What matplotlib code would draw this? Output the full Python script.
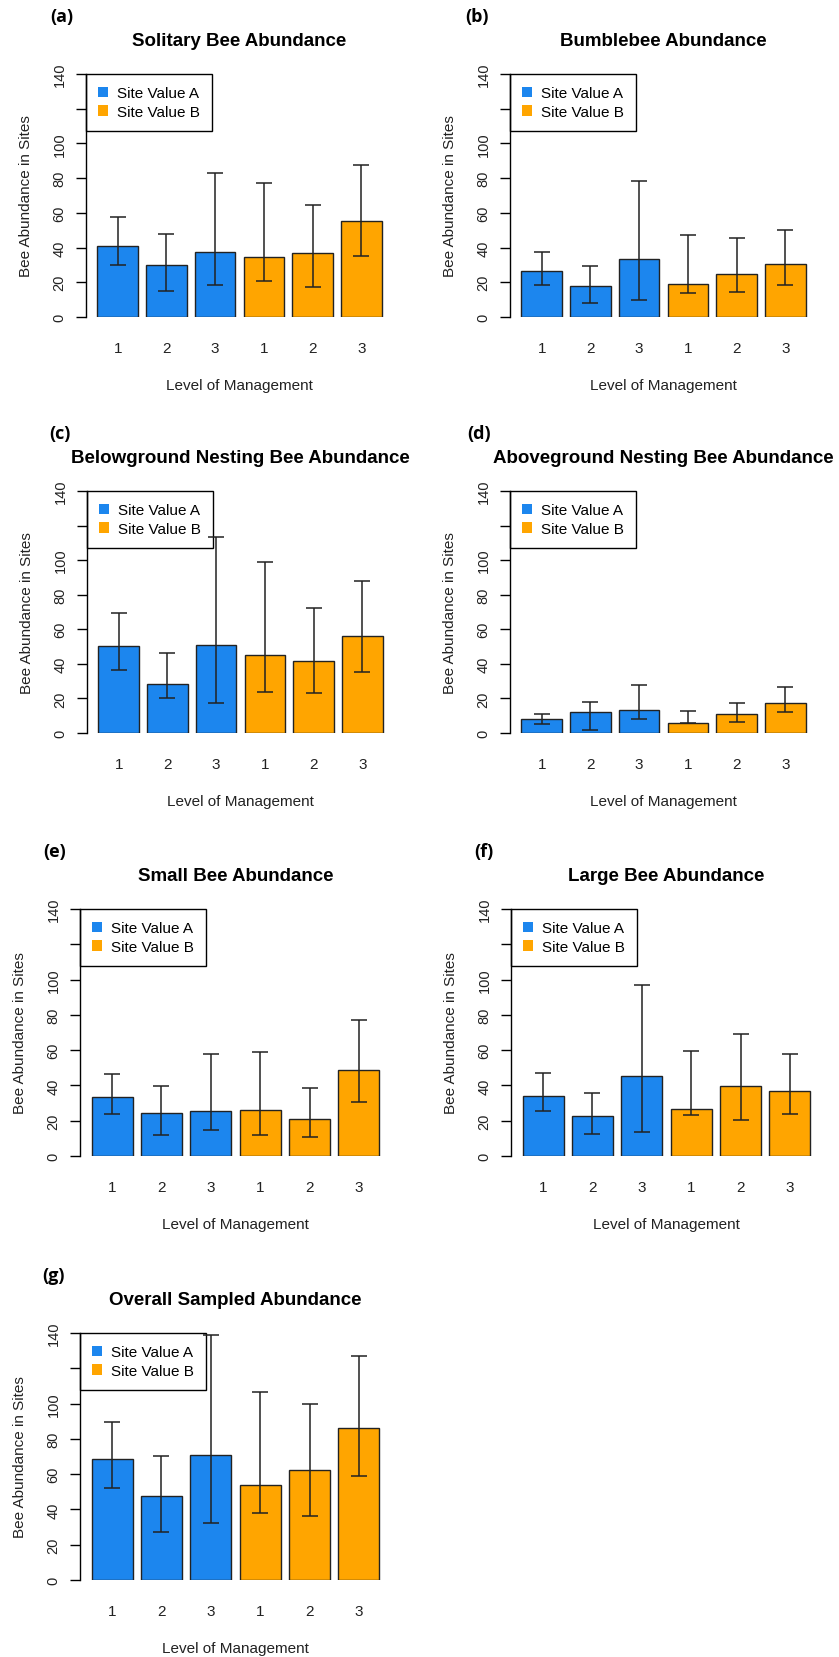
import numpy as np
import matplotlib.pyplot as plt
from matplotlib.patches import Patch

plt.rcParams['font.family'] = ['Liberation Sans', 'DejaVu Sans']

# bar order: Site Value A (levels 1,2,3), then Site Value B (levels 1,2,3)
level_labels = ['1', '2', '3', '1', '2', '3']
site_labels = ['Site Value A', 'Site Value B']
panel_letters = ['(a)', '(b)', '(c)', '(d)', '(e)', '(f)', '(g)']
titles = ['Solitary Bee Abundance', 'Bumblebee Abundance',
          'Belowground Nesting Bee Abundance', 'Aboveground Nesting Bee Abundance',
          'Small Bee Abundance', 'Large Bee Abundance', 'Overall Sampled Abundance']

solitary_mean = [41, 30, 37.5, 34.3, 36.8, 55.5]
solitary_lo = [30, 14.8, 18.5, 21, 17, 35]
solitary_hi = [57.4, 47.8, 83.2, 77.3, 64.7, 87.5]

bumble_mean = [26.6, 17.7, 33.5, 19, 24.5, 30.6]
bumble_lo = [18.5, 8.1, 10, 13.7, 14.3, 18.5]
bumble_hi = [37.4, 29.3, 78.4, 47.2, 45.7, 49.9]

below_mean = [50.3, 28.5, 51, 44.9, 41.4, 55.9]
below_lo = [36.6, 20.2, 17.5, 23.7, 23.1, 35.3]
below_hi = [69.5, 46.2, 113.5, 98.8, 72.2, 87.9]

above_mean = [7.9, 12.1, 13.5, 5.6, 10.8, 17.5]
above_lo = [5.2, 1.9, 7.9, 5.6, 6.6, 12.1]
above_hi = [10.8, 18.1, 27.9, 12.7, 17.5, 26.6]

small_mean = [33.6, 24.6, 25.3, 25.9, 21.2, 48.6]
small_lo = [24, 11.7, 14.9, 11.7, 11, 30.8]
small_hi = [46.3, 39.7, 58, 58.8, 38.4, 77.1]

large_mean = [34.2, 22.7, 45.2, 26.6, 39.7, 36.8]
large_lo = [25.3, 12.5, 13.6, 23.2, 20.4, 24]
large_hi = [47, 35.5, 97.1, 59.5, 69, 58]

overall_mean = [68.4, 47.8, 71, 54, 62.3, 86.2]
overall_lo = [52.1, 27.2, 32.1, 38.2, 36.3, 58.8]
overall_hi = [89.4, 70.3, 138.7, 106.6, 99.8, 127]

means = [solitary_mean, bumble_mean, below_mean, above_mean, small_mean, large_mean, overall_mean]
lows = [solitary_lo, bumble_lo, below_lo, above_lo, small_lo, large_lo, overall_lo]
highs = [solitary_hi, bumble_hi, below_hi, above_hi, small_hi, large_hi, overall_hi]

col_a = '#1C86EE'
col_b = '#FFA500'
bar_cols = [col_a] * 3 + [col_b] * 3

W, H = 839, 1658
fig = plt.figure(figsize=(W / 100, H / 100), dpi=100)

# axes rectangles in pixels: left, top, width, height
rects = [(86, 75, 307, 243), (510, 75, 307, 243),
         (87, 492, 307, 242), (510, 492, 307, 242),
         (80, 910, 311, 247), (511, 910, 311, 247),
         (80, 1334, 311, 247)]
letter_dx = [-36, -45, -38, -43, -37, -37, -38]

x = 0.7 + 1.2 * np.arange(6)  # R barplot positions (width 1, space 0.2)

for i in range(7):
    l, t, w, h = rects[i]
    ax = fig.add_axes([l / W, 1 - (t + h) / H, w / W, h / H])
    m = np.array(means[i])
    lo = np.array(lows[i])
    hi = np.array(highs[i])

    ax.bar(x, m, width=1.0, color=bar_cols, edgecolor='#222222', linewidth=1.0, zorder=2)
    ax.errorbar(x, m, yerr=[m - lo, hi - m], fmt='none', ecolor='#222222',
                elinewidth=1.1, capsize=5.5, capthick=1.1, zorder=3)

    ax.set_xlim(-0.08, 7.48)
    ax.set_ylim(0, 140)
    for s in ['top', 'right', 'bottom']:
        ax.spines[s].set_visible(False)
    ax.spines['left'].set_linewidth(1.0)

    ax.set_yticks(np.arange(0, 141, 20))
    ax.set_yticklabels(['0', '20', '40', '60', '80', '100', '', '140'],
                       rotation=90, va='center', fontsize=10.5, color='#222222')
    ax.tick_params(axis='y', length=7, width=1.0, pad=7)
    ax.set_xticks(x)
    ax.set_xticklabels(level_labels, fontsize=11, color='#222222')
    ax.tick_params(axis='x', length=0, pad=17)

    ax.set_ylabel('Bee Abundance in Sites', fontsize=11, color='#222222', labelpad=14)
    ax.set_xlabel('Level of Management', fontsize=11, color='#222222', labelpad=17)
    ax.set_title(titles[i], fontsize=13.5, fontweight='bold', pad=21)

    handles = [Patch(facecolor=col_a, edgecolor='none'), Patch(facecolor=col_b, edgecolor='none')]
    leg = ax.legend(handles, site_labels, loc='upper left', bbox_to_anchor=(0, 1),
                    borderaxespad=0, fontsize=11, fancybox=False, framealpha=1,
                    edgecolor='black', handlelength=0.65, handleheight=0.65,
                    handletextpad=0.6, borderpad=0.8, labelspacing=0.3)
    leg.get_frame().set_linewidth(1.0)
    leg.set_zorder(1)

    fig.text((l + letter_dx[i]) / W, 1 - (t - 58) / H, panel_letters[i],
             fontsize=13, fontweight='bold', family='Open Sans', va='center', ha='left')

fig.savefig('out.png', dpi=100, facecolor='white')
